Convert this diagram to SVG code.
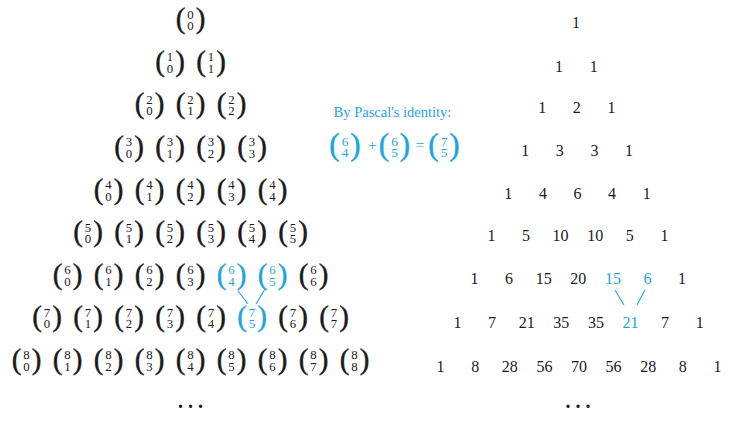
<svg xmlns="http://www.w3.org/2000/svg" width="730" height="428" viewBox="0 0 730 428">
<style>
text{font-family:"Liberation Serif","Times New Roman",serif;fill:#1a1a1a;text-anchor:middle}
.p{font-size:29px;stroke:#1a1a1a;stroke-width:0.45}
.d{font-size:12.8px}
.n{font-size:16px}
.b text,text.b{fill:#1ea5de}
.b .p,.b .ep{stroke:#1ea5de}
.ep{font-size:31px;stroke:#1ea5de;stroke-width:0.45}
.ed{font-size:13.5px}
.dots{font-size:20px;font-weight:bold;letter-spacing:5px}
line{stroke:#1ea5de;stroke-width:1.1}
</style>
<defs>
<g id="pp"><text class="p" x="-10" y="7.5">(</text><text class="p" x="10" y="7.5">)</text></g>
</defs>
<rect width="730" height="428" fill="#fff"/>
<g id="left">
<g id="b0_0" transform="translate(190.5,20.5)"><use href="#pp"/><text class="d" y="-2">0</text><text class="d" y="9.5">0</text></g>
<g id="b1_0" transform="translate(170,63)"><use href="#pp"/><text class="d" y="-2">1</text><text class="d" y="9.5">0</text></g>
<g id="b1_1" transform="translate(211,63)"><use href="#pp"/><text class="d" y="-2">1</text><text class="d" y="9.5">1</text></g>
<g id="b2_0" transform="translate(149.5,105.5)"><use href="#pp"/><text class="d" y="-2">2</text><text class="d" y="9.5">0</text></g>
<g id="b2_1" transform="translate(190.5,105.5)"><use href="#pp"/><text class="d" y="-2">2</text><text class="d" y="9.5">1</text></g>
<g id="b2_2" transform="translate(231.5,105.5)"><use href="#pp"/><text class="d" y="-2">2</text><text class="d" y="9.5">2</text></g>
<g id="b3_0" transform="translate(129,148)"><use href="#pp"/><text class="d" y="-2">3</text><text class="d" y="9.5">0</text></g>
<g id="b3_1" transform="translate(170,148)"><use href="#pp"/><text class="d" y="-2">3</text><text class="d" y="9.5">1</text></g>
<g id="b3_2" transform="translate(211,148)"><use href="#pp"/><text class="d" y="-2">3</text><text class="d" y="9.5">2</text></g>
<g id="b3_3" transform="translate(252,148)"><use href="#pp"/><text class="d" y="-2">3</text><text class="d" y="9.5">3</text></g>
<g id="b4_0" transform="translate(108.5,191)"><use href="#pp"/><text class="d" y="-2">4</text><text class="d" y="9.5">0</text></g>
<g id="b4_1" transform="translate(149.5,191)"><use href="#pp"/><text class="d" y="-2">4</text><text class="d" y="9.5">1</text></g>
<g id="b4_2" transform="translate(190.5,191)"><use href="#pp"/><text class="d" y="-2">4</text><text class="d" y="9.5">2</text></g>
<g id="b4_3" transform="translate(231.5,191)"><use href="#pp"/><text class="d" y="-2">4</text><text class="d" y="9.5">3</text></g>
<g id="b4_4" transform="translate(272.5,191)"><use href="#pp"/><text class="d" y="-2">4</text><text class="d" y="9.5">4</text></g>
<g id="b5_0" transform="translate(88,233.5)"><use href="#pp"/><text class="d" y="-2">5</text><text class="d" y="9.5">0</text></g>
<g id="b5_1" transform="translate(129,233.5)"><use href="#pp"/><text class="d" y="-2">5</text><text class="d" y="9.5">1</text></g>
<g id="b5_2" transform="translate(170,233.5)"><use href="#pp"/><text class="d" y="-2">5</text><text class="d" y="9.5">2</text></g>
<g id="b5_3" transform="translate(211,233.5)"><use href="#pp"/><text class="d" y="-2">5</text><text class="d" y="9.5">3</text></g>
<g id="b5_4" transform="translate(252,233.5)"><use href="#pp"/><text class="d" y="-2">5</text><text class="d" y="9.5">4</text></g>
<g id="b5_5" transform="translate(293,233.5)"><use href="#pp"/><text class="d" y="-2">5</text><text class="d" y="9.5">5</text></g>
<g id="b6_0" transform="translate(67.5,276)"><use href="#pp"/><text class="d" y="-2">6</text><text class="d" y="9.5">0</text></g>
<g id="b6_1" transform="translate(108.5,276)"><use href="#pp"/><text class="d" y="-2">6</text><text class="d" y="9.5">1</text></g>
<g id="b6_2" transform="translate(149.5,276)"><use href="#pp"/><text class="d" y="-2">6</text><text class="d" y="9.5">2</text></g>
<g id="b6_3" transform="translate(190.5,276)"><use href="#pp"/><text class="d" y="-2">6</text><text class="d" y="9.5">3</text></g>
<g id="b6_4" class="b" transform="translate(231.5,276)"><text class="p" x="-10" y="7.5">(</text><text class="p" x="10" y="7.5">)</text><text class="d" y="-2">6</text><text class="d" y="9.5">4</text></g>
<g id="b6_5" class="b" transform="translate(272.5,276)"><text class="p" x="-10" y="7.5">(</text><text class="p" x="10" y="7.5">)</text><text class="d" y="-2">6</text><text class="d" y="9.5">5</text></g>
<g id="b6_6" transform="translate(313.5,276)"><use href="#pp"/><text class="d" y="-2">6</text><text class="d" y="9.5">6</text></g>
<g id="b7_0" transform="translate(47,318.5)"><use href="#pp"/><text class="d" y="-2">7</text><text class="d" y="9.5">0</text></g>
<g id="b7_1" transform="translate(88,318.5)"><use href="#pp"/><text class="d" y="-2">7</text><text class="d" y="9.5">1</text></g>
<g id="b7_2" transform="translate(129,318.5)"><use href="#pp"/><text class="d" y="-2">7</text><text class="d" y="9.5">2</text></g>
<g id="b7_3" transform="translate(170,318.5)"><use href="#pp"/><text class="d" y="-2">7</text><text class="d" y="9.5">3</text></g>
<g id="b7_4" transform="translate(211,318.5)"><use href="#pp"/><text class="d" y="-2">7</text><text class="d" y="9.5">4</text></g>
<g id="b7_5" class="b" transform="translate(252,318.5)"><text class="p" x="-10" y="7.5">(</text><text class="p" x="10" y="7.5">)</text><text class="d" y="-2">7</text><text class="d" y="9.5">5</text></g>
<g id="b7_6" transform="translate(293,318.5)"><use href="#pp"/><text class="d" y="-2">7</text><text class="d" y="9.5">6</text></g>
<g id="b7_7" transform="translate(334,318.5)"><use href="#pp"/><text class="d" y="-2">7</text><text class="d" y="9.5">7</text></g>
<g id="b8_0" transform="translate(26.5,361)"><use href="#pp"/><text class="d" y="-2">8</text><text class="d" y="9.5">0</text></g>
<g id="b8_1" transform="translate(67.5,361)"><use href="#pp"/><text class="d" y="-2">8</text><text class="d" y="9.5">1</text></g>
<g id="b8_2" transform="translate(108.5,361)"><use href="#pp"/><text class="d" y="-2">8</text><text class="d" y="9.5">2</text></g>
<g id="b8_3" transform="translate(149.5,361)"><use href="#pp"/><text class="d" y="-2">8</text><text class="d" y="9.5">3</text></g>
<g id="b8_4" transform="translate(190.5,361)"><use href="#pp"/><text class="d" y="-2">8</text><text class="d" y="9.5">4</text></g>
<g id="b8_5" transform="translate(231.5,361)"><use href="#pp"/><text class="d" y="-2">8</text><text class="d" y="9.5">5</text></g>
<g id="b8_6" transform="translate(272.5,361)"><use href="#pp"/><text class="d" y="-2">8</text><text class="d" y="9.5">6</text></g>
<g id="b8_7" transform="translate(313.5,361)"><use href="#pp"/><text class="d" y="-2">8</text><text class="d" y="9.5">7</text></g>
<g id="b8_8" transform="translate(354.5,361)"><use href="#pp"/><text class="d" y="-2">8</text><text class="d" y="9.5">8</text></g>
<text id="ldots" class="dots" x="193" y="408">...</text>
</g>
<g id="identity" class="b">
<text x="392.5" y="117" style="font-size:14.5px">By Pascal's identity:</text>
<g id="e1" transform="translate(345,146.5)"><text class="ep" x="-10.5" y="8">(</text><text class="ep" x="10.5" y="8">)</text><text class="ed" y="-1">6</text><text class="ed" y="10.5">4</text></g>
<text x="372.5" y="150" style="font-size:15px">+</text>
<g id="e2" transform="translate(394.5,146.5)"><text class="ep" x="-10.5" y="8">(</text><text class="ep" x="10.5" y="8">)</text><text class="ed" y="-1">6</text><text class="ed" y="10.5">5</text></g>
<text x="420" y="150" style="font-size:15px">=</text>
<g id="e3" transform="translate(444,146.5)"><text class="ep" x="-10.5" y="8">(</text><text class="ep" x="10.5" y="8">)</text><text class="ed" y="-1">7</text><text class="ed" y="10.5">5</text></g>
</g>
<g id="right" class="n">
<text class="n" x="576" y="28">1</text>
<text class="n" x="559.1" y="71.5">1</text><text class="n" x="593.7" y="71.5">1</text>
<text class="n" x="542.2" y="113">1</text><text class="n" x="576.8" y="113">2</text><text class="n" x="611.4" y="113">1</text>
<text class="n" x="525.2" y="155.5">1</text><text class="n" x="559.8" y="155.5">3</text><text class="n" x="594.4" y="155.5">3</text><text class="n" x="629" y="155.5">1</text>
<text class="n" x="508.3" y="198.5">1</text><text class="n" x="542.9" y="198.5">4</text><text class="n" x="577.5" y="198.5">6</text><text class="n" x="612.1" y="198.5">4</text><text class="n" x="646.7" y="198.5">1</text>
<text class="n" x="491.4" y="241">1</text><text class="n" x="526" y="241">5</text><text class="n" x="560.6" y="241">10</text><text class="n" x="595.2" y="241">10</text><text class="n" x="629.8" y="241">5</text><text class="n" x="664.4" y="241">1</text>
<text class="n" x="474.5" y="284">1</text><text class="n" x="509.1" y="284">6</text><text class="n" x="543.7" y="284">15</text><text class="n" x="578.3" y="284">20</text><text class="n b" x="612.9" y="284">15</text><text class="n b" x="647.5" y="284">6</text><text class="n" x="682.1" y="284">1</text>
<text class="n" x="457.5" y="328">1</text><text class="n" x="492.1" y="328">7</text><text class="n" x="526.7" y="328">21</text><text class="n" x="561.3" y="328">35</text><text class="n" x="595.9" y="328">35</text><text class="n b" x="630.5" y="328">21</text><text class="n" x="665.1" y="328">7</text><text class="n" x="699.7" y="328">1</text>
<text class="n" x="440.6" y="372">1</text><text class="n" x="475.2" y="372">8</text><text class="n" x="509.8" y="372">28</text><text class="n" x="544.4" y="372">56</text><text class="n" x="579" y="372">70</text><text class="n" x="613.6" y="372">56</text><text class="n" x="648.2" y="372">28</text><text class="n" x="682.8" y="372">8</text><text class="n" x="717.4" y="372">1</text>
<text id="rdots" class="dots" x="580.5" y="408">...</text>
</g>
<g id="connectors">
<line x1="238" y1="291" x2="248" y2="304"/>
<line x1="265" y1="289" x2="256" y2="304"/>
<line x1="615" y1="290" x2="624" y2="305"/>
<line x1="645" y1="290" x2="637" y2="305"/>
</g>
</svg>
